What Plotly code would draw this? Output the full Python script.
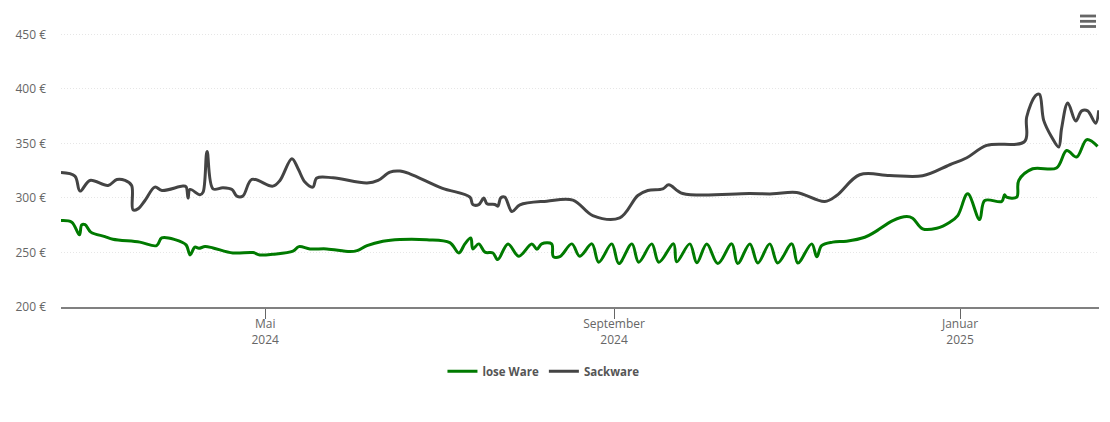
import pandas as pd
import plotly.graph_objects as go

START = "2024-02-19"
lose_days = [0,3.8,6.5,7.3,8.5,10.5,15.5,18.3,27.8,33.7,35.5,40.2,44.1,45.5,47.2,48.6,50.8,53.6,60.6,67.7,70.1,74.7,81.8,83.9,87.8,93.7,101.9,104.4,107.9,113.5,119.5,129,137.1,140.3,142.4,144.5,145.2,147.3,149.5,152.3,154,157.6,161.4,166,167.8,169.5,173,173.6,175.9,180.1,182.9,187.2,189.6,194.2,196.7,201.3,203.7,208.3,210.8,216,217.1,221.7,224.2,227.7,231.6,236.5,238.6,242.9,245.7,249.9,252.7,257.7,259.8,264.7,266.5,268.2,272.1,277,283.4,286.9,293.3,298.2,300.3,303.8,308.8,313.4,316.2,319.7,323.9,325.7,331.7,332.7,333.4,337,337.7,342.6,351,354.6,358.1,361.7,365.5]
lose_vals = [279.3,277.8,266.2,275.4,275.6,268.7,264.6,262.2,259.5,256.3,263.4,261.8,257,247.8,254.9,253.9,255.4,254.2,249.6,249.9,247.8,248.4,251.2,255.4,253.3,253.3,250.8,251.7,256.3,260.4,262,261.8,259.1,249.6,257.9,263.4,253.3,257.9,250.3,249.6,243.5,257.9,246.6,257.9,253,257.9,257.9,246.2,246.2,257.9,246.6,257.9,241.1,257.9,239.8,257.9,241.1,257.9,241.1,257.9,241.4,257.9,240.6,257.9,239.8,257.9,239.8,257.9,240.4,257.9,240.4,257.9,240.4,257.9,246,256.3,259.5,260.4,264,268.7,279.3,283,281.5,271.7,272.3,277.8,283.9,303.8,280.2,297.7,296.8,302.9,300.8,300.8,316.1,326.8,327.5,343.6,337.6,353.5,347.3]

sack_days = [0,4.9,6.7,10.2,16.6,19.7,22.6,24.9,25.4,27.1,29.6,33.1,35.6,43,44.1,44.8,45.5,49,50.1,51.5,53.6,57.1,60.3,62,64.1,67.3,74.7,77.2,81.4,83.6,86,88.8,90.2,95.9,107.9,111.8,116,119.5,123,134.3,144.2,145.2,147.3,149.1,150.2,153,154,155.1,156.5,159,161.8,171.3,180.5,187.5,197,203.4,206.9,212.2,214.3,219.2,242.9,251,259.4,269.3,273.5,281.6,292.2,303.8,313.4,319.4,326.4,339.8,340.5,343.7,345,346.5,349.3,351.8,352.8,355,357.8,359.9,362,364.8,365.9]
sack_vals = [323.4,320.1,306.3,316.1,311.5,317,316.1,311.5,289.1,290,297.7,310,306.9,310.9,310.3,299.9,307.8,302.9,305.4,342.7,308.4,309.4,307.8,301.7,301.7,317,310.9,316.1,336,326.8,314.6,310,318.3,318.5,313.7,316.1,323.8,324.7,322.2,309.1,300.8,294,294,299.9,294.7,294,292.5,300.2,300.8,287.6,293.7,297.1,298.1,283.9,281.8,302.3,306.9,308.4,312.1,304.1,304.1,303.8,305,296.8,302.3,321.3,320.7,320.4,330.5,336.9,348.2,351.9,374.3,394.2,395.1,371.2,356,346.8,363.6,387.2,370.7,379.9,379.9,368.6,380.4]

x_tick_dates = ["2024-05-01", "2024-09-01", "2025-01-01"]
x_tick_text = ["Mai<br>2024", "September<br>2024", "Januar<br>2025"]
y_tick_vals = [200, 250, 300, 350, 400, 450]
y_tick_text = ["200 €", "250 €", "300 €", "350 €", "400 €", "450 €"]

def to_dates(days):
    return pd.Timestamp(START) + pd.to_timedelta(days, unit="D")

fig = go.Figure()
fig.add_trace(go.Scatter(x=to_dates(lose_days), y=lose_vals, name="lose Ware", mode="lines",
                         line=dict(color="#007a00", width=3, shape="spline", smoothing=1.0)))
fig.add_trace(go.Scatter(x=to_dates(sack_days), y=sack_vals, name="Sackware", mode="lines",
                         line=dict(color="#444444", width=3, shape="spline", smoothing=1.0)))

shapes = []
for yp in (16, 21.3, 26.5):
    shapes.append(dict(type="rect", xref="paper", yref="paper", layer="above",
                       x0=(1080 - 61) / 1038, x1=(1096 - 61) / 1038,
                       y0=(307 - yp - 1.4) / 277, y1=(307 - yp + 1.4) / 277,
                       fillcolor="#666666", line=dict(width=0)))

fig.update_layout(
    width=1110, height=422, autosize=False,
    margin=dict(l=61, r=11, t=30, b=115),
    paper_bgcolor="white", plot_bgcolor="white",
    font=dict(family="Open Sans, sans-serif", size=12, color="#666666"),
    showlegend=True,
    legend=dict(orientation="h", x=0.4648, xanchor="center", y=-0.18, yanchor="top",
                font=dict(size=11.5, color="#555555", weight="bold"), itemwidth=30),
    shapes=shapes,
    xaxis=dict(type="date", range=[to_dates([0])[0], to_dates([366])[0]],
               tickmode="array", tickvals=x_tick_dates, ticktext=x_tick_text,
               showgrid=False, zeroline=False, showline=True, linecolor="#808080", linewidth=1.5,
               ticks="outside", ticklen=10, tickcolor="#666666", tickwidth=1,
               ticklabelstandoff=-5,
               tickfont=dict(size=12, color="#666666")),
    yaxis=dict(range=[200, 454.1], tickmode="array", tickvals=y_tick_vals, ticktext=y_tick_text,
               showgrid=True, gridcolor="#e6e6e6", griddash="1px,2px", gridwidth=1,
               zeroline=False, showline=False, ticks="", ticklabelstandoff=14,
               tickfont=dict(size=12, color="#666666")),
)
fig.write_html("out.html", config={"displayModeBar": False},
               post_script="document.body.style.margin='0';")
